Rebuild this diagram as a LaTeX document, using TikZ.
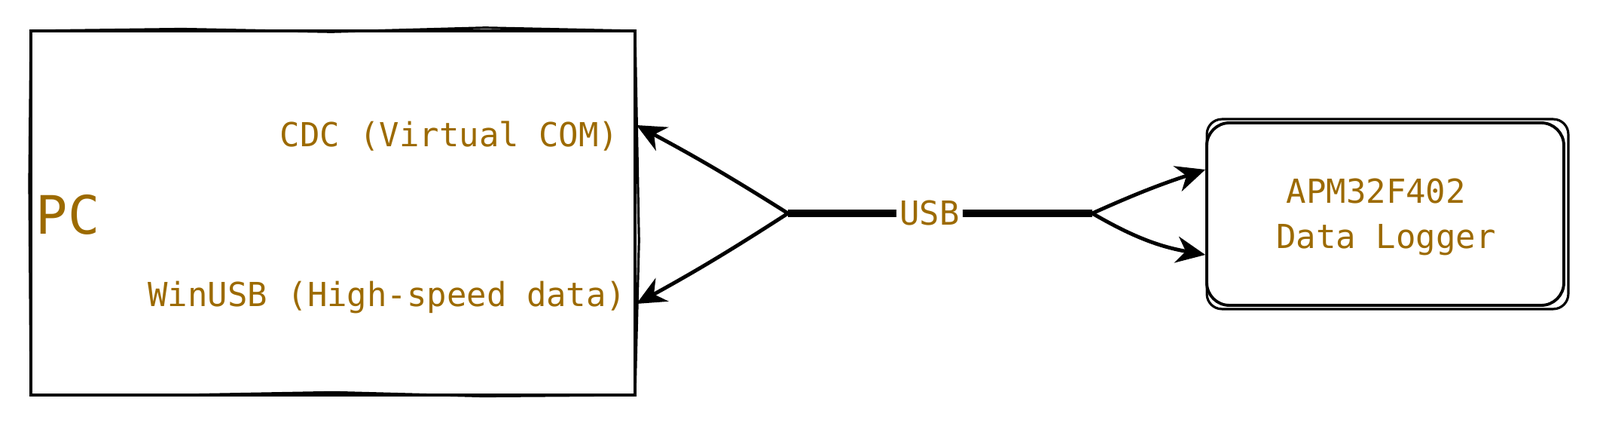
\documentclass[tikz,border=0pt]{standalone}
\usepackage{fontspec}
\setmonofont{DejaVu Sans Mono}
\usetikzlibrary{arrows.meta, positioning, decorations.pathmorphing}
\definecolor{labelbrown}{RGB}{156,106,0}

\begin{document}
\begin{tikzpicture}[
    >={Stealth[length=11pt,width=10pt,inset=3.5pt]},
    box/.style={draw, line width=1.1pt,
        preaction={draw, line width=0.9pt, decorate,
            decoration={random steps, segment length=2cm, amplitude=1.5pt}}},
    roundbox/.style={draw, line width=1.1pt, rounded corners=0.3cm},
    lbl/.style={text=labelbrown, font=\ttfamily\fontsize{12.5}{17}\selectfont, inner sep=0pt},
    link/.style={->, line width=1.4pt}]

    \useasboundingbox (0,0) rectangle (21.24,5.80);

    \node[box, minimum width=8.02cm, minimum height=4.83cm] (pc) at (4.42,2.975) {};
    \node[lbl, anchor=west, font=\ttfamily\fontsize{20}{24}\selectfont] (pcname) at (0.47,2.95) {PC};
    \node[lbl, anchor=east] (cdc)    at (8.22,3.99) {CDC (Virtual COM)};
    \node[lbl, anchor=east] (winusb) at (8.32,1.85) {WinUSB (High-speed data)};

    \node[roundbox, minimum width=4.74cm, minimum height=2.42cm] (logger) at (18.39,2.96) {};
    % second, rougher stroke round the logger
    \draw[line width=0.9pt, rounded corners=0.2cm]
        ([shift={(0.02,-0.03)}]logger.south west) rectangle ([shift={(0.04,0.03)}]logger.north east);
    \node[lbl, align=center] (loggername) at (18.40,2.92) {APM32F402\phantom{0}\\Data Logger};

    \coordinate (jl) at (10.46,2.97);
    \coordinate (jr) at (14.50,2.97);
    \node[lbl, fill=white, inner sep=1pt] (usb) at (12.34,2.97) {USB};

    \coordinate (cdcport)    at (pc.east |- 0,4.14);
    \coordinate (winusbport) at (pc.east |- 0,1.77);
    \coordinate (inhigh)     at (logger.west |- 0,3.55);
    \coordinate (inlow)      at (logger.west |- 0,2.42);

    \draw[line width=2.6pt] (jl) -- (usb) -- (jr);
    \draw[link] (jl) to[bend right=2] (cdcport);
    \draw[link] (jl) to[bend left=2]  (winusbport);
    \draw[link] (jr) to[bend left=3]  (inhigh);
    \draw[link] (jr) to[bend right=10] (inlow);
\end{tikzpicture}
\end{document}
